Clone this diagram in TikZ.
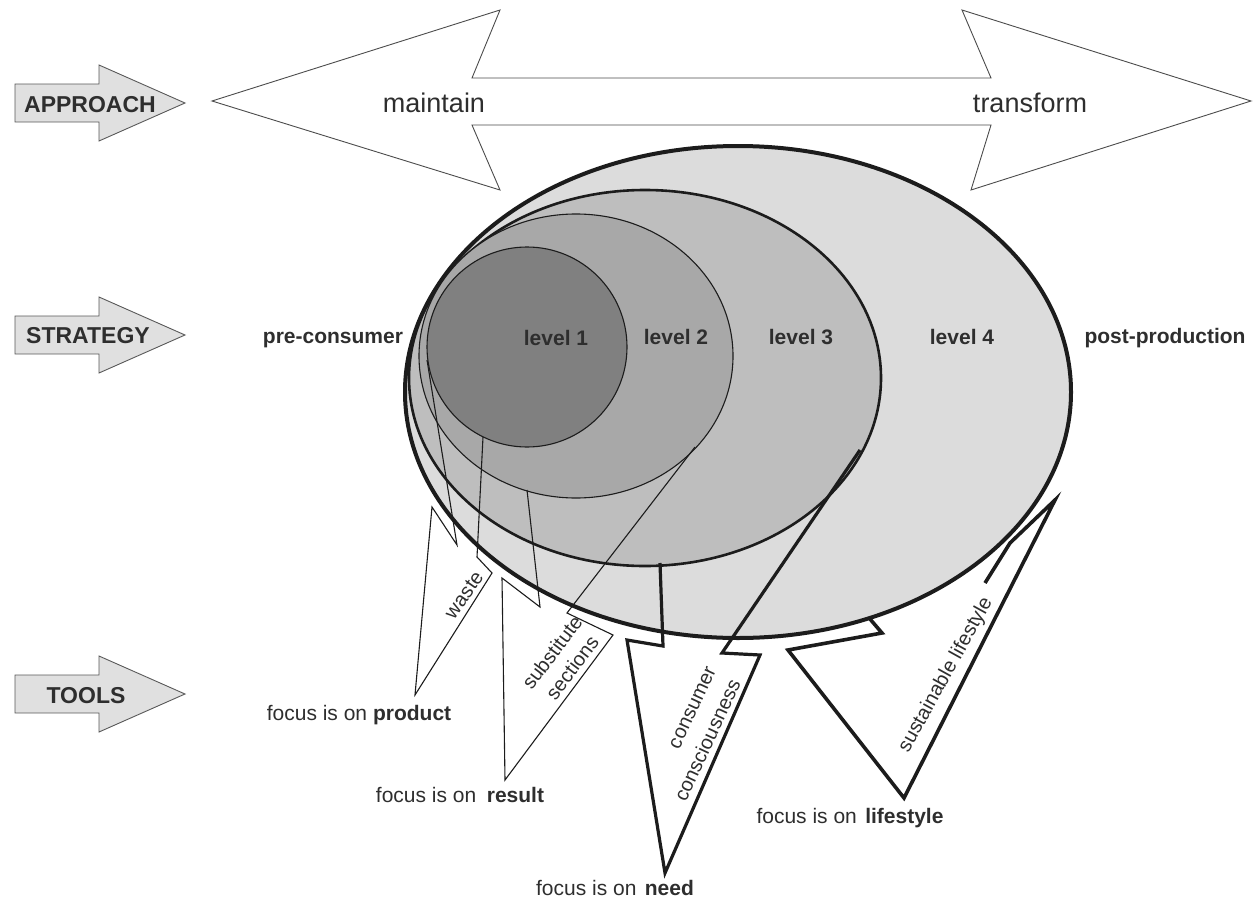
\documentclass[tikz,border=0pt]{standalone}
\usepackage{fontspec}
\setmainfont{Liberation Sans}
\definecolor{inkc}{HTML}{1C1C1C}
\definecolor{txtc}{HTML}{2E2E2E}
\definecolor{lvfour}{HTML}{DCDCDC}
\definecolor{lvthree}{HTML}{BEBEBE}
\definecolor{lvtwo}{HTML}{A8A8A8}
\definecolor{lvone}{HTML}{808080}
\definecolor{sidefill}{HTML}{E0E0E0}
\begin{document}
\begin{tikzpicture}[x=1pt,y=-1pt,
  sidearrow/.style={draw=black!65, fill=sidefill, line width=0.9pt, line join=miter},
  sidelabel/.style={font=\fontsize{23}{26}\selectfont\bfseries, text=txtc, inner sep=0pt},
  biglabel/.style={font=\fontsize{27}{30}\selectfont, text=txtc, inner sep=0pt},
  lvl/.style={font=\fontsize{21}{24}\selectfont\bfseries, text=txtc, inner sep=0pt},
  foc/.style={font=\fontsize{21}{24}\selectfont, text=txtc, inner sep=0pt},
  wtxt/.style={font=\fontsize{20}{25}\selectfont, text=txtc, inner sep=0pt},
  thinwedge/.style={draw=inkc, line width=1.1pt, line join=miter},
  thickwedge/.style={draw=inkc, line width=3.2pt, line join=miter},
  sidearr/.pic={\draw[sidearrow] (15,-19) -- (99,-19) -- (99,-38) -- (185,0) -- (99,38) -- (99,19) -- (15,19) -- cycle;}
]
\path[use as bounding box] (0,0) rectangle (1253,902);

% row arrows on the left
\pic at (0,103) {sidearr};
\pic at (0,335) {sidearr};
\pic at (0,694) {sidearr};
\node[sidelabel, anchor=base] (approach) at (90,112) {APPROACH};
\node[sidelabel, anchor=base] (strategy) at (88,343) {STRATEGY};
\node[sidelabel, anchor=base] (tools) at (86,703) {TOOLS};

% double-headed approach arrow
\draw[draw=black!70, fill=white, line width=0.9pt, line join=miter]
  (212,101) -- (500,10) -- (472,78) -- (991,78) -- (962,10) -- (1251,101)
  -- (971,190) -- (991,125) -- (472,125) -- (500,190) -- cycle;
\node[biglabel, anchor=base] (maintain) at (434,112) {maintain};
\node[biglabel, anchor=base] (transform) at (1030,112) {transform};

% nested levels
\draw[fill=lvfour, draw=inkc, line width=4pt] (738,392) ellipse [x radius=333, y radius=246];
\draw[fill=lvthree, draw=inkc, line width=2.6pt] (645,378) ellipse [x radius=236, y radius=188];
\draw[fill=lvtwo, draw=inkc, line width=1.1pt] (576,356) ellipse [x radius=157, y radius=142];
\draw[fill=lvone, draw=inkc, line width=1.1pt] (527,347) circle [radius=100];

% tool wedges
\draw[thinwedge] (427,360) -- (457,545) -- (432,507) -- (415,695) -- (492,573) -- (477,557) -- (483,437);
\draw[thinwedge] (527,490) -- (540,607) -- (502,578) -- (505,780) -- (613,635) -- (567,613) -- (695,447);
\draw[thickwedge] (660,563) -- (663,646) -- (627,640) -- (665,873) -- (760,655) -- (722,653) -- (860,450);
\draw[thickwedge, line width=3.6pt] (870,619) -- (882,633) -- (788,650) -- (904,798) -- (1055,500) -- (1010,543) -- (985,583);

% strategy labels
\node[lvl, anchor=base] (pre) at (333,343) {pre-consumer};
\node[lvl, anchor=base] (lv1) at (556,345) {level 1};
\node[lvl, anchor=base] (lv2) at (676,344) {level 2};
\node[lvl, anchor=base] (lv3) at (801,344) {level 3};
\node[lvl, anchor=base] (lv4) at (962,344) {level 4};
\node[lvl, anchor=base] (post) at (1165,343) {post-production};

% tool labels inside the wedges
\node[wtxt, rotate=55] (waste) at (464,595) {waste};
\node[wtxt, rotate=53, align=center] (subst) at (562,660) {substitute\\sections};
\node[wtxt, rotate=65] (cons1) at (693,708) {consumer};
\node[wtxt, rotate=65] (cons2) at (707,740) {consciousness};
\node[wtxt, rotate=61] (sust) at (946,675) {sustainable lifestyle};

% focus labels under the wedges
\node[foc, anchor=base] (fprod) at (359,720) {focus is on \textbf{product}};
\node[foc, anchor=base] (fres) at (460,802) {focus is on\hspace{0.5em}\textbf{result}};
\node[foc, anchor=base] (fneed) at (615,895) {focus is on\hspace{0.4em}\textbf{need}};
\node[foc, anchor=base] (flife) at (850,823) {focus is on\hspace{0.4em}\textbf{lifestyle}};
\end{tikzpicture}
\end{document}
